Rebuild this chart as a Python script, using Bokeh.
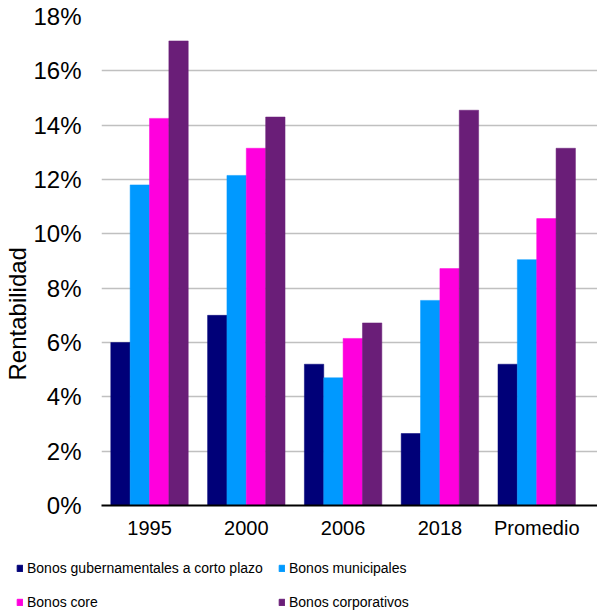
from bokeh.plotting import figure
from bokeh.models import ColumnDataSource, Legend, LegendItem, Title, FixedTicker
from bokeh.layouts import column, row
from bokeh.embed import file_html
from bokeh.resources import INLINE

categories = ["1995", "2000", "2006", "2018", "Promedio"]
series_names = ["Bonos gubernamentales a corto plazo", "Bonos municipales", "Bonos core", "Bonos corporativos"]
gubernamentales = [6.0, 7.0, 5.2, 2.65, 5.2]
municipales = [11.8, 12.15, 4.7, 7.55, 9.05]
core = [14.25, 13.15, 6.15, 8.72, 10.56]
corporativos = [17.1, 14.3, 6.72, 14.55, 13.15]
colors = ["#000078", "#0099FF", "#FF00DD", "#6A1E78"]
y_ticks = [0, 2, 4, 6, 8, 10, 12, 14, 16, 18]

FONT = "Liberation Sans"

p = figure(width=597, height=550, output_backend="svg", toolbar_location=None,
           x_range=(-0.496, 4.628), y_range=(0, 18),
           min_border_left=101, min_border_top=16, min_border_right=0, min_border_bottom=45)
p.outline_line_color = None

x = list(range(len(categories)))
series = [gubernamentales, municipales, core, corporativos]
offsets = [-0.3, -0.1, 0.1, 0.3]
for vals, off, col in zip(series, offsets, colors):
    src = ColumnDataSource(dict(x=[xi + off for xi in x], top=vals))
    p.vbar(x="x", top="top", width=0.2, bottom=0, source=src,
           fill_color=col, line_color=col, line_width=0.5)

p.xaxis.ticker = FixedTicker(ticks=x)
p.xaxis.major_label_overrides = {i: c for i, c in enumerate(categories)}
p.xaxis.major_tick_line_color = None
p.xaxis.minor_tick_line_color = None
p.xaxis.axis_line_color = "black"
p.xaxis.axis_line_width = 2
p.xaxis.major_label_text_font = FONT
p.xaxis.major_label_text_font_size = "20px"
p.xaxis.major_label_text_color = "black"
p.xaxis.major_label_standoff = 5

p.yaxis.ticker = FixedTicker(ticks=y_ticks)
p.yaxis.major_label_overrides = {t: f"{t}%" for t in y_ticks}
p.yaxis.major_tick_line_color = None
p.yaxis.minor_tick_line_color = None
p.yaxis.axis_line_color = None
p.yaxis.major_label_text_font = FONT
p.yaxis.major_label_text_font_size = "24px"
p.yaxis.major_label_text_color = "black"
p.yaxis.major_label_standoff = 14

p.xgrid.grid_line_color = None
p.ygrid.grid_line_color = "#C0C0C0"
p.ygrid.grid_line_width = 1.5

ytitle = Title(text="Rentabilidad", align="left", offset=125, standoff=0,
               text_font=FONT, text_font_size="24px", text_font_style="normal",
               text_color="black")
p.add_layout(ytitle, "left")

# legend figure
lf = figure(width=597, height=61, output_backend="svg", toolbar_location=None,
            x_range=(0, 1), y_range=(0, 1), min_border=0,
            min_border_left=0, min_border_right=0, min_border_top=0, min_border_bottom=0,
            x_axis_location=None, y_axis_location=None)
lf.outline_line_color = None
lf.xgrid.grid_line_color = None
lf.ygrid.grid_line_color = None
items = []
for name, col in zip(series_names, colors):
    r = lf.vbar(x=[5], top=[1], width=0.1, fill_color=col, line_color=col)
    items.append(LegendItem(label=name, renderers=[r]))
legend = Legend(items=items, location=(16, -1), orientation="horizontal", ncols=2,
                padding=0, margin=0, spacing=14,
                glyph_width=7, glyph_height=8, label_standoff=4,
                label_width=237, label_height=20,
                label_text_font=FONT, label_text_font_size="14px", label_text_color="black",
                border_line_color=None, background_fill_alpha=0)
lf.add_layout(legend, "center")

layout = column(p, row(lf), spacing=0)
open("out.html", "w").write(file_html(layout, INLINE))
